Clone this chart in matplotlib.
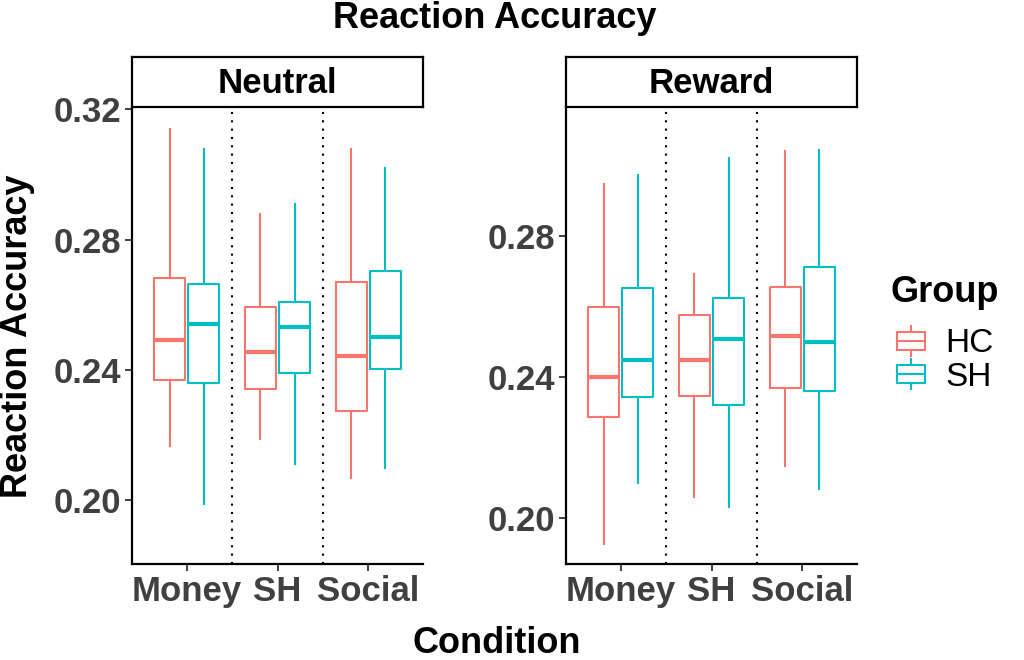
import matplotlib
matplotlib.use("Agg")
import matplotlib.pyplot as plt
from matplotlib.patches import Rectangle
from matplotlib.lines import Line2D
from matplotlib.legend_handler import HandlerBase

plt.rcParams['font.family'] = ['Liberation Sans', 'DejaVu Sans']

conditions = ["Money", "SH", "Social"]
groups = ["HC", "SH"]
colors = {"HC": "#F8766D", "SH": "#00BFC4"}

# [whisker low, q1, median, q3, whisker high] per condition
neutral_hc = [[0.2166, 0.2368, 0.2491, 0.2682, 0.3141],
              [0.2187, 0.2343, 0.2455, 0.2592, 0.2879],
              [0.2069, 0.2274, 0.2442, 0.2671, 0.3077]]
neutral_sh = [[0.1989, 0.2359, 0.2542, 0.2665, 0.3079],
              [0.2112, 0.2391, 0.2532, 0.2609, 0.2908],
              [0.2100, 0.2404, 0.2501, 0.2703, 0.3020]]
reward_hc = [[0.1927, 0.2288, 0.2401, 0.2597, 0.2946],
             [0.2061, 0.2346, 0.2449, 0.2575, 0.2691],
             [0.2149, 0.2370, 0.2517, 0.2656, 0.3040]]
reward_sh = [[0.2101, 0.2344, 0.2448, 0.2652, 0.2972],
             [0.2031, 0.2322, 0.2508, 0.2624, 0.3019],
             [0.2082, 0.2361, 0.2499, 0.2712, 0.3041]]

panels = [("Neutral", {"HC": neutral_hc, "SH": neutral_sh}, (0.1805, 0.3204), [0.20, 0.24, 0.28, 0.32]),
          ("Reward", {"HC": reward_hc, "SH": reward_sh}, (0.1871, 0.3161), [0.20, 0.24, 0.28])]

W, H = 1024, 660
fig = plt.figure(figsize=(W / 100, H / 100), dpi=100)


def px_axes(x0, y0, x1, y1):
    return fig.add_axes([x0 / W, 1 - y1 / H, (x1 - x0) / W, (y1 - y0) / H])


tick_col = "#404040"
panel_x = [(132, 423), (566, 857)]
offset = 0.187
bw = 0.34

for (name, data, ylim, yticks), (x0, x1) in zip(panels, panel_x):
    ax = px_axes(x0, 108, x1, 564)
    for gi, g in enumerate(groups):
        stats = []
        for vals in data[g]:
            lo, q1, med, q3, hi = vals
            stats.append(dict(whislo=lo, q1=q1, med=med, q3=q3, whishi=hi, fliers=[]))
        pos = [i + 1 + (offset if gi else -offset) for i in range(len(conditions))]
        c = colors[g]
        ax.bxp(stats, positions=pos, widths=bw, showcaps=False, showfliers=False,
               boxprops=dict(color=c, linewidth=1.5),
               whiskerprops=dict(color=c, linewidth=1.5),
               medianprops=dict(color=c, linewidth=3.0, solid_capstyle='butt'),
               manage_ticks=False)
    for xv in [1.5, 2.5]:
        ax.axvline(xv, color="black", linestyle=(0, (1, 3)), linewidth=1.5)
    ax.set_xlim(0.4, 3.6)
    ax.set_ylim(*ylim)
    ax.set_xticks([1, 2, 3])
    ax.set_xticklabels(conditions)
    ax.set_yticks(yticks)
    ax.set_yticklabels([f"{v:.2f}" for v in yticks])
    for s in ["top", "right"]:
        ax.spines[s].set_visible(False)
    for s in ["left", "bottom"]:
        ax.spines[s].set_linewidth(1.6)
    ax.tick_params(axis="both", length=5, width=1.3, color="#333333",
                   labelsize=25, labelcolor=tick_col, pad=3)
    for lab in ax.get_xticklabels() + ax.get_yticklabels():
        lab.set_fontweight("bold")

    sax = px_axes(x0, 57, x1, 107)
    sax.set_xticks([])
    sax.set_yticks([])
    for s in sax.spines.values():
        s.set_linewidth(1.6)
    sax.text(0.5, 0.47, name, ha="center", va="center", fontsize=25,
             fontweight="bold", transform=sax.transAxes)

fig.text(495 / W, 1 - 19 / H, "Reaction Accuracy", ha="center", va="center",
         fontsize=26, fontweight="bold")
fig.text(497 / W, 1 - 653 / H, "Condition", ha="center", va="baseline",
         fontsize=26, fontweight="bold")
fig.text(18 / W, 1 - 336 / H, "Reaction Accuracy", ha="center", va="center",
         rotation=90, fontsize=26, fontweight="bold")
fig.text(890 / W, 1 - 293 / H, "Group", ha="left", va="center",
         fontsize=26, fontweight="bold")


class BoxHandler(HandlerBase):
    def create_artists(self, legend, orig_handle, xdescent, ydescent, width, height, fontsize, trans):
        c = orig_handle.get_color()
        x0 = -xdescent
        yb = -ydescent
        rect = Rectangle((x0, yb + height * 0.2), width, height * 0.6, facecolor="white",
                         edgecolor=c, linewidth=1.5, transform=trans)
        med = Line2D([x0, x0 + width], [yb + height * 0.5] * 2, color=c, linewidth=1.5, transform=trans)
        xm = x0 + width / 2
        wt = Line2D([xm, xm], [yb + height * 0.8, yb + height], color=c, linewidth=1.5, transform=trans)
        wb = Line2D([xm, xm], [yb, yb + height * 0.2], color=c, linewidth=1.5, transform=trans)
        return [rect, med, wt, wb]


handles = [Line2D([], [], color=colors[g]) for g in groups]
leg = fig.legend(handles, groups, handler_map={Line2D: BoxHandler()},
                 loc="upper left", bbox_to_anchor=(897 / W, 1 - 326 / H),
                 frameon=False, fontsize=24, borderpad=0, borderaxespad=0,
                 handlelength=0.85, handleheight=1.0, handletextpad=0.6,
                 labelspacing=0.0)

fig.savefig("out.png", dpi=100)
